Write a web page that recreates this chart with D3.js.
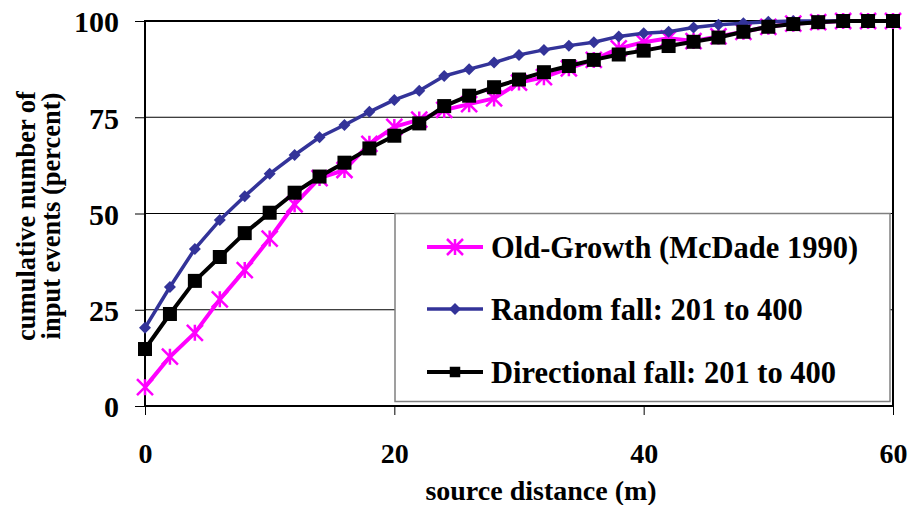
<!DOCTYPE html>
<html>
<head>
<script src="https://d3js.org/d3.v7.min.js"></script>
<style>
  body { margin: 0; background: #fff; }
  text { font-family: "Liberation Serif", "Times New Roman", serif; font-weight: bold; }
</style>
</head>
<body>
<svg class="chart" width="913" height="505"></svg>
<script>
  var distances = [0,2,4,6,8,10,12,14,16,18,20,22,24,26,28,30,32,34,36,38,40,42,44,46,48,50,52,54,56,58,60]

  var oldGrowth = [4.9,12.8,19,27.7,35.3,43.5,52.4,59.2,61.3,68.1,72.5,74.4,76.9,78.4,79.9,84,85.4,87.7,89.9,92.9,94.5,95.5,94.8,96,97.2,98.5,99.3,99.7,100,100,100]
  var randomFall = [20.3,30.9,40.8,48.3,54.5,60.3,65.2,69.8,73,76.4,79.5,81.9,85.7,87.5,89.2,91.2,92.5,93.6,94.5,96,96.8,97.2,98.3,99,99.4,99.8,100,100,100,100,100]
  var directionalFall = [14.8,23.9,32.5,38.7,44.9,50.2,55.4,59.6,63.2,66.9,70.2,73.4,77.9,80.6,82.8,84.8,86.7,88.3,89.9,91.3,92.3,93.5,94.6,95.7,97.2,98.5,99.2,99.7,100,100,100]

  var seriesNames = ["Old-Growth (McDade 1990)", "Random fall: 201 to 400", "Directional fall: 201 to 400"]
  var xTicks = [0, 20, 40, 60]
  var yTicks = [0, 25, 50, 75, 100]

  var series = [
    {name: seriesNames[0], values: oldGrowth, color: "#ff00ff", marker: "star"},
    {name: seriesNames[1], values: randomFall, color: "#333399", marker: "diamond"},
    {name: seriesNames[2], values: directionalFall, color: "#000000", marker: "square"}
  ]

  // plot box (avoid "top", it is window.top)
  var plotL = 145, plotR = 893, plotT = 21, plotB = 406

  var svg = d3.select("svg")

  var x = d3.scaleLinear().domain([0, 60]).range([plotL, plotR])
  var y = d3.scaleLinear().domain([0, 100]).range([plotB, plotT])

  // gridlines
  svg.append("g").selectAll("line")
    .data(yTicks.filter(d => d > 0 && d < 100))
    .enter().append("line")
    .attr("x1", plotL).attr("x2", plotR)
    .attr("y1", d => y(d)).attr("y2", d => y(d))
    .attr("stroke", "#000").attr("stroke-width", 1)

  // axes
  var yAxis = d3.axisLeft(y).tickValues(yTicks).tickSize(10).tickPadding(16)
  var gy = svg.append("g").attr("transform", `translate(${plotL},0)`).call(yAxis)
  gy.select(".domain").remove()
  gy.selectAll(".tick line").attr("stroke", "#000")
  gy.selectAll(".tick text").style("font-size", "30px").attr("fill", "#000").attr("dy", "0.36em")

  var xAxis = d3.axisBottom(x).tickValues(xTicks).tickSize(9)
  var gx = svg.append("g").attr("transform", `translate(0,${plotB})`).call(xAxis)
  gx.select(".domain").remove()
  gx.selectAll(".tick line").attr("stroke", "#000")
  gx.selectAll(".tick text").style("font-size", "28px").attr("fill", "#000").attr("y", 57).attr("dy", 0)

  // plot border
  svg.append("rect")
    .attr("x", plotL).attr("y", plotT)
    .attr("width", plotR - plotL).attr("height", plotB - plotT)
    .attr("fill", "none").attr("stroke", "#000").attr("stroke-width", 2)

  // markers
  function drawMarker(g, type, color, cx, cy, scale) {
    scale = scale || 1
    if (type == "diamond") {
      var r = 6 * scale
      g.append("path")
        .attr("d", `M${cx},${cy - r}L${cx + r},${cy}L${cx},${cy + r}L${cx - r},${cy}Z`)
        .attr("fill", color)
    } else if (type == "square") {
      var s = 7 * scale
      g.append("rect").attr("x", cx - s).attr("y", cy - s)
        .attr("width", 2 * s).attr("height", 2 * s).attr("fill", color)
    } else {
      var a = 8 * scale
      var p = `M${cx - a},${cy - a}L${cx + a},${cy + a}M${cx - a},${cy + a}L${cx + a},${cy - a}M${cx},${cy - a}L${cx},${cy + a}`
      g.append("path").attr("d", p).attr("stroke", color).attr("stroke-width", 2.5).attr("fill", "none")
    }
  }

  var line = d3.line().x((d, i) => x(distances[i])).y(d => y(d))

  series.forEach(s => {
    var g = svg.append("g")
    g.append("path")
      .attr("d", line(s.values))
      .attr("fill", "none")
      .attr("stroke", s.color)
      .attr("stroke-width", s.marker == "diamond" ? 3.5 : 4)
      .attr("stroke-linejoin", "round")
    s.values.forEach((v, i) => drawMarker(g, s.marker, s.color, x(distances[i]), y(v)))
  })

  // legend
  var legend = svg.append("g")
  legend.append("rect")
    .attr("x", 395).attr("y", y(50)).attr("width", 495).attr("height", 188)
    .attr("fill", "#fff").attr("stroke", "#808080").attr("stroke-width", 1.5)
  var rowY = [247, 309, 372]
  series.forEach((s, i) => {
    legend.append("line")
      .attr("x1", 427).attr("x2", 483).attr("y1", rowY[i]).attr("y2", rowY[i])
      .attr("stroke", s.color).attr("stroke-width", s.marker == "diamond" ? 3.5 : 4)
    drawMarker(legend, s.marker, s.color, 455, rowY[i], s.marker == "square" ? 0.75 : 1)
    legend.append("text")
      .attr("x", 491).attr("y", rowY[i]).attr("dy", "0.36em")
      .style("font-size", "30.5px").text(s.name)
  })

  // axis titles
  svg.append("text")
    .attr("x", 541).attr("y", 500)
    .attr("text-anchor", "middle").style("font-size", "28px")
    .text("source distance (m)")

  var yt = svg.append("text")
    .attr("transform", `translate(0,216) rotate(-90)`)
    .attr("text-anchor", "middle").style("font-size", "26.5px")
  yt.append("tspan").attr("x", 0).attr("y", 35).text("cumulative number of")
  yt.append("tspan").attr("x", 0).attr("y", 60).text("input events (percent)")
</script>
</body>
</html>
